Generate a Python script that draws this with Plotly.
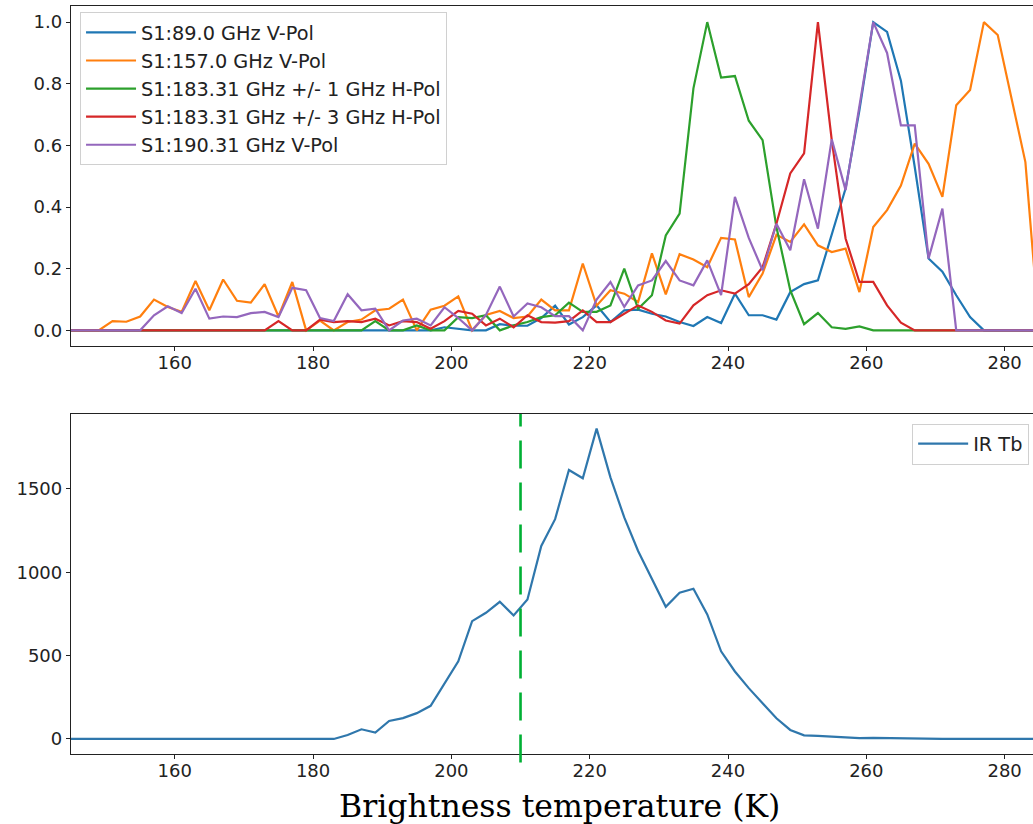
import plotly.graph_objects as go
from plotly.subplots import make_subplots

# bin centres (K)
tb = list(range(145, 287, 2))

# normalised histograms, one per channel
ch_89 = [0, 0, 0, 0, 0, 0, 0, 0, 0, 0,
         0, 0, 0, 0, 0, 0, 0, 0, 0, 0,
         0, 0, 0, 0, 0, 0, 0, 0.01, 0.005, 0,
         0, 0.02, 0.015, 0.015, 0.04, 0.08, 0.019, 0.043, 0.081, 0.027,
         0.065, 0.067, 0.054, 0.045, 0.027, 0.014, 0.043, 0.024, 0.119, 0.049,
         0.049, 0.035, 0.124, 0.15, 0.162, 0.315, 0.46, 0.714, 1.0, 0.968,
         0.81, 0.53, 0.233, 0.19, 0.114, 0.043, 0, 0, 0, 0,
         0]
ch_157 = [0, 0, 0, 0.03, 0.028, 0.045, 0.10, 0.076, 0.06, 0.16,
          0.065, 0.165, 0.096, 0.09, 0.15, 0.045, 0.157, 0, 0.032, 0,
          0.027, 0.035, 0.065, 0.07, 0.10, 0, 0.067, 0.08, 0.11, 0,
          0.05, 0.063, 0.04, 0.045, 0.10, 0.065, 0.065, 0.217, 0.08, 0.13,
          0.119, 0.092, 0.25, 0.117, 0.247, 0.23, 0.205, 0.30, 0.295, 0.108,
          0.184, 0.31, 0.287, 0.344, 0.276, 0.254, 0.265, 0.124, 0.335, 0.39,
          0.47, 0.606, 0.54, 0.433, 0.73, 0.78, 1.0, 0.958, 0.75, 0.546,
          0]
ch_183_1 = [0, 0, 0, 0, 0, 0, 0, 0, 0, 0,
            0, 0, 0, 0, 0, 0, 0, 0, 0, 0,
            0, 0, 0.03, 0, 0, 0.016, 0, 0, 0.043, 0.04,
            0.049, 0, 0.016, 0.027, 0.043, 0.049, 0.09, 0.06, 0.06, 0.081,
            0.2, 0.07, 0.114, 0.308, 0.379, 0.785, 1.0, 0.82, 0.825, 0.68,
            0.617, 0.335, 0.13, 0.02, 0.056, 0.01, 0.005, 0.013, 0, 0,
            0, 0, 0, 0, 0, 0, 0, 0, 0, 0,
            0]
ch_183_3 = [0, 0, 0, 0, 0, 0, 0, 0, 0, 0,
            0, 0, 0, 0, 0, 0.03, 0, 0, 0.035, 0.027,
            0.03, 0.027, 0.038, 0.016, 0.03, 0.027, 0.005, 0.03, 0.063, 0.054,
            0.016, 0.038, 0.01, 0.049, 0.027, 0.025, 0.03, 0.065, 0.027, 0.027,
            0.054, 0.081, 0.06, 0.032, 0.022, 0.081, 0.114, 0.13, 0.119, 0.15,
            0.205, 0.346, 0.509, 0.574, 1.0, 0.617, 0.298, 0.157, 0.157, 0.081,
            0.025, 0, 0, 0, 0, 0, 0, 0, 0, 0,
            0]
ch_190 = [0, 0, 0, 0, 0, 0, 0.049, 0.078, 0.056, 0.135,
          0.038, 0.045, 0.043, 0.056, 0.06, 0.043, 0.138, 0.13, 0.04, 0.03,
          0.117, 0.065, 0.07, 0.0, 0.032, 0.038, 0.016, 0.075, 0.04, 0,
          0.05, 0.142, 0.045, 0.087, 0.075, 0.046, 0.046, 0.0, 0.1, 0.157,
          0.076, 0.146, 0.162, 0.225, 0.162, 0.146, 0.227, 0.114, 0.433, 0.30,
          0.195, 0.346, 0.26, 0.49, 0.33, 0.62, 0.455, 0.725, 1.0, 0.9,
          0.665, 0.665, 0.233, 0.395, 0, 0, 0, 0, 0, 0,
          0]

# IR brightness temperature counts
ir_tb = [0, 0, 0, 0, 0, 0, 0, 0, 0, 0,
         0, 0, 0, 0, 0, 0, 0, 0, 0, 0,
         24, 58, 38, 108, 125, 155, 199, 335, 466, 707,
         757, 823, 741, 837, 1158, 1319, 1614, 1564, 1862, 1570,
         1329, 1128, 958, 793, 877, 901, 747, 526, 405, 305,
         214, 124, 54, 22, 18, 14, 8, 5, 7, 5,
         3, 2, 2, 1, 1, 1, 1, 1, 0, 0,
         0]

threshold = 210

names = ['S1:89.0 GHz V-Pol', 'S1:157.0 GHz V-Pol', 'S1:183.31 GHz +/- 1 GHz H-Pol',
         'S1:183.31 GHz +/- 3 GHz H-Pol', 'S1:190.31 GHz V-Pol']
series = [ch_89, ch_157, ch_183_1, ch_183_3, ch_190]
colors = ['#1f77b4', '#ff7f0e', '#2ca02c', '#d62728', '#9467bd']

fig = make_subplots(rows=2, cols=1)

for name, ys, c in zip(names, series, colors):
    fig.add_trace(go.Scatter(x=tb, y=ys, mode='lines', name=name,
                             line=dict(color=c, width=2.2)), row=1, col=1)

fig.add_trace(go.Scatter(x=tb, y=ir_tb, mode='lines', name='IR Tb',
                         line=dict(color='#2f77ac', width=2.2), legend='legend2'),
              row=2, col=1)

fig.add_shape(type='line', x0=threshold, x1=threshold, xref='x2',
              y0=-0.025, y1=1, yref='y2 domain',
              line=dict(color='#00b034', width=2.6, dash='28px,14px'))

axis_style = dict(showgrid=False, zeroline=False, showline=True, linecolor='#222',
                  linewidth=1.3, ticks='outside', ticklen=4, tickcolor='#222',
                  tickfont=dict(family='DejaVu Sans', size=18, color='#222'),
                  automargin=False)

fig.update_xaxes(axis_style)
fig.update_yaxes(axis_style)
fig.update_xaxes(range=[145, 284.1], tickvals=[160, 180, 200, 220, 240, 260, 280],
                 mirror=True, ticklabelstandoff=-4)
fig.update_yaxes(range=[-0.051, 1.053], tickvals=[0, 0.2, 0.4, 0.6, 0.8, 1.0],
                 tickformat='.1f', domain=[0.58, 0.993], row=1, col=1)
fig.update_yaxes(range=[-90, 1950], tickvals=[0, 500, 1000, 1500],
                 domain=[0.085, 0.4976], row=2, col=1)

fig.add_annotation(text='Brightness temperature (K)', xref='paper', yref='paper',
                   x=0.508, y=0.022, showarrow=False, xanchor='center', yanchor='middle',
                   font=dict(family='DejaVu Serif', size=31.5, color='black'))

legend_font = dict(family='DejaVu Sans', size=19.3, color='#222')
fig.update_layout(
    width=1033, height=824,
    margin=dict(l=71, r=0, t=0, b=0),
    plot_bgcolor='white', paper_bgcolor='white',
    legend=dict(x=0.0094, y=0.985, xanchor='left', yanchor='top', itemwidth=50,
                bgcolor='rgba(255,255,255,0.8)', bordercolor='#d0d0d0', borderwidth=1,
                font=legend_font),
    legend2=dict(x=0.996, y=0.486, xanchor='right', yanchor='top', itemwidth=50,
                 bgcolor='rgba(255,255,255,0.8)', bordercolor='#d0d0d0', borderwidth=1,
                 font=legend_font),
)

fig.write_html("out.html", config={'displayModeBar': False},
               post_script="document.body.style.margin='0';")
